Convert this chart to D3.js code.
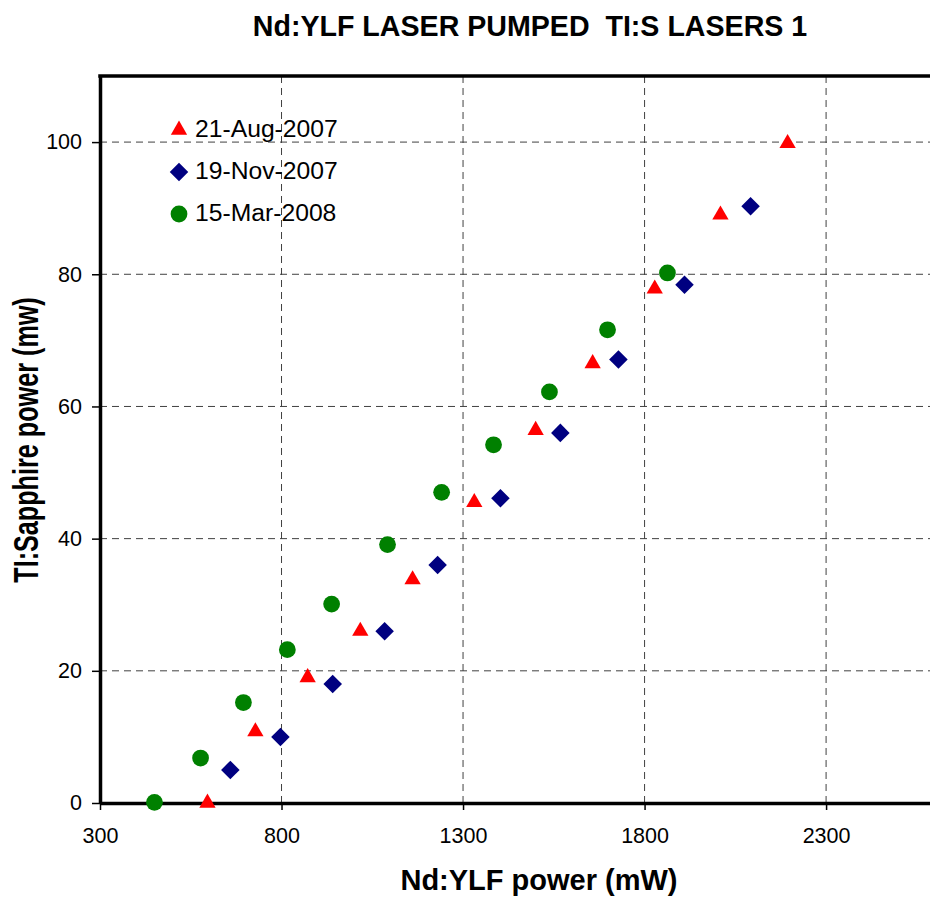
<!DOCTYPE html>
<html><head><meta charset="utf-8">
<script src="https://cdn.jsdelivr.net/npm/d3@7"></script>
<style>body{margin:0;background:#fff;} svg{display:block;font-family:"Liberation Sans",Arial,sans-serif;} text{white-space:pre;}</style>
</head><body>
<svg id="chart" width="930" height="899"></svg>
<script>
const title = "Nd:YLF LASER PUMPED  TI:S LASERS 1";
const xLabel = "Nd:YLF power (mW)";
const yLabel = "TI:Sapphire power (mw)";
const xTicks = [300, 800, 1300, 1800, 2300];
const yTicks = [0, 20, 40, 60, 80, 100];
const seriesNames = ["21-Aug-2007", "19-Nov-2007", "15-Mar-2008"];
const augX = [596, 728, 872, 1017, 1161, 1331, 1500, 1657, 1828, 2009, 2194];
const augY = [0, 10.8, 19, 26, 33.8, 45.5, 56.4, 66.5, 77.8, 89, 99.8];
const novX = [659, 797, 941, 1084, 1230, 1403, 1568, 1728, 1910, 2092];
const novY = [5, 10, 18, 26, 36, 46.1, 56, 67.1, 78.4, 90.3];
const marX = [450, 577, 695, 816, 938, 1092, 1241, 1384, 1538, 1698, 1863];
const marY = [0.1, 6.8, 15.2, 23.2, 30.1, 39.1, 47, 54.2, 62.2, 71.6, 80.2];

const svg = d3.select("#chart");
const pLeft = 100, pTop = 76, pBottom = 803, pRight = 935;
const x = d3.scaleLinear().domain([300, 2600]).range([pLeft, pRight]);
const y = d3.scaleLinear().domain([0, 110]).range([pBottom, pTop]);

// gridlines
svg.append("g").selectAll("line").data(yTicks.filter(d => d > 0)).join("line")
  .attr("x1", pLeft).attr("x2", pRight).attr("y1", d => y(d)).attr("y2", d => y(d))
  .attr("stroke", "#404040").attr("stroke-width", 1).attr("stroke-dasharray", "7,5");
svg.append("g").selectAll("line").data(xTicks.filter(d => d > 300)).join("line")
  .attr("y1", pTop).attr("y2", pBottom).attr("x1", d => x(d)).attr("x2", d => x(d))
  .attr("stroke", "#404040").attr("stroke-width", 1).attr("stroke-dasharray", "7,5");

// axes
const fmt = d3.format("d");
const xAxis = d3.axisBottom(x).tickValues(xTicks).tickFormat(fmt).tickSize(7).tickSizeOuter(0).tickPadding(18);
const yAxis = d3.axisLeft(y).tickValues(yTicks).tickFormat(fmt).tickSize(8).tickSizeOuter(0).tickPadding(10);
const gx = svg.append("g").attr("transform", `translate(0,${pBottom})`).call(xAxis);
const gy = svg.append("g").attr("transform", `translate(${pLeft},0)`).call(yAxis);
[gx, gy].forEach(g => {
  g.select(".domain").attr("stroke", "#000").attr("stroke-width", 3.5);
  g.selectAll(".tick line").attr("stroke", "#000").attr("stroke-width", 1.5);
  g.selectAll(".tick text").attr("fill", "#000").attr("font-size", 21.5)
    .attr("font-family", "Liberation Sans, Arial, sans-serif");
});
// top border
svg.append("line").attr("x1", pLeft - 1.75).attr("x2", pRight).attr("y1", pTop).attr("y2", pTop)
  .attr("stroke", "#000").attr("stroke-width", 3.5);

// markers
const tri = d3.symbol().type(d3.symbolTriangle).size(115);
const dia = d3.symbol().type(d3.symbolSquare).size(172);
const g = svg.append("g");
g.selectAll("path.aug").data(augX.map((v, i) => [v, augY[i]])).join("path")
  .attr("class", "aug").attr("d", tri).attr("fill", "#ff0000")
  .attr("transform", d => `translate(${x(d[0])},${y(d[1])})`);
g.selectAll("path.nov").data(novX.map((v, i) => [v, novY[i]])).join("path")
  .attr("class", "nov").attr("d", dia).attr("fill", "#000080")
  .attr("transform", d => `translate(${x(d[0])},${y(d[1])}) rotate(45)`);
g.selectAll("circle.mar").data(marX.map((v, i) => [v, marY[i]])).join("circle")
  .attr("class", "mar").attr("r", 8.4).attr("fill", "#008000")
  .attr("cx", d => x(d[0])).attr("cy", d => y(d[1]));

// legend
const leg = svg.append("g");
const legY = [130, 172, 214];
seriesNames.forEach((n, i) => {
  const row = leg.append("g").attr("transform", `translate(179,${legY[i]})`);
  if (i === 0) row.append("path").attr("d", tri).attr("fill", "#ff0000");
  if (i === 1) row.append("path").attr("d", dia).attr("fill", "#000080").attr("transform", "rotate(45)");
  if (i === 2) row.append("circle").attr("r", 8.4).attr("fill", "#008000");
  row.append("text").attr("x", 16).attr("y", 7).attr("font-size", 24.7).attr("fill", "#000").text(n);
});

// titles
svg.append("text").attr("x", 530).attr("y", 36).attr("text-anchor", "middle")
  .attr("font-size", 28.6).attr("font-weight", "bold").attr("fill", "#000").text(title);
svg.append("text").attr("x", 539).attr("y", 890).attr("text-anchor", "middle")
  .attr("font-size", 29).attr("font-weight", "bold").attr("fill", "#000").text(xLabel);
svg.append("text").attr("transform", "translate(38,440) rotate(-90) scale(0.72,1)").attr("text-anchor", "middle")
  .attr("font-size", 35).attr("font-weight", "bold").attr("fill", "#000").text(yLabel);
</script>
</body></html>
